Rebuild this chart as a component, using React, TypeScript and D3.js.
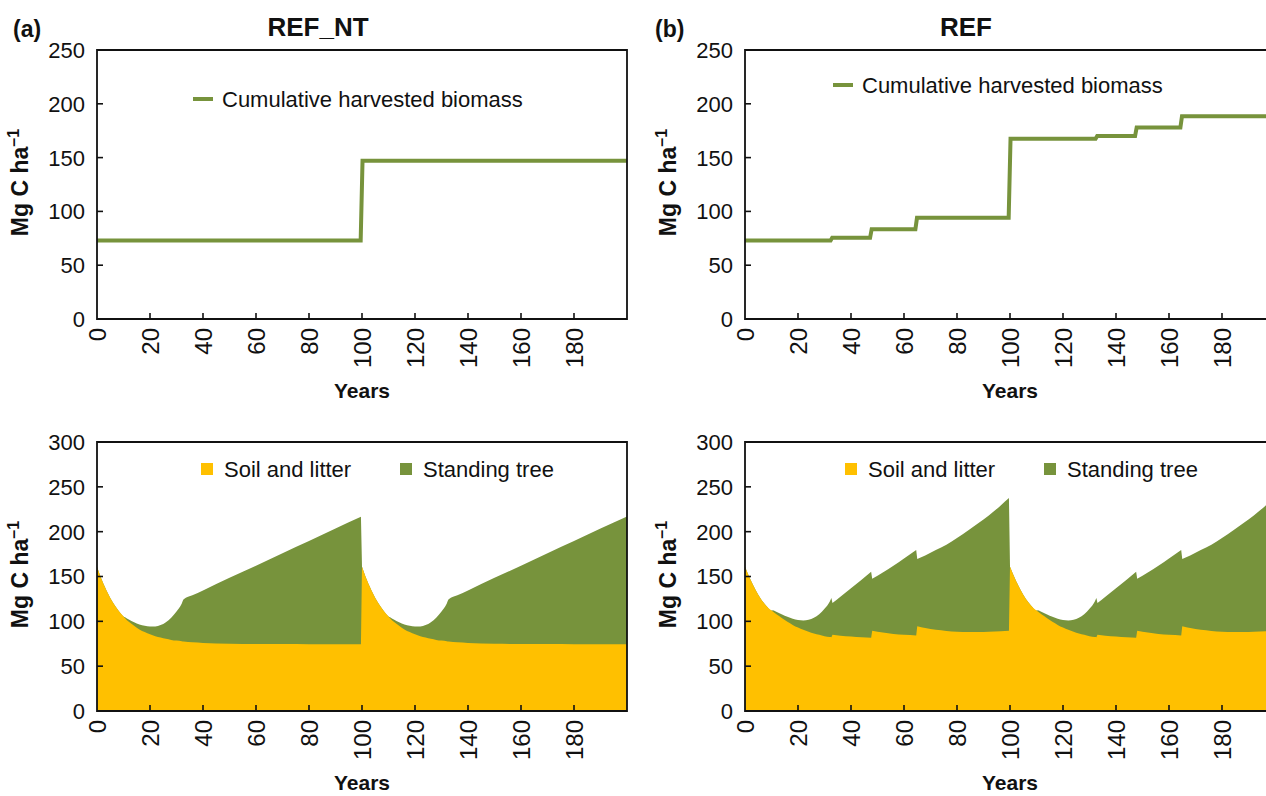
import React from "react";
import * as d3 from "d3";

const W = 1266;
const H = 796;

// Cumulative harvested biomass (Mg C/ha), step series
const harvestYearsNT = [0, 99.5, 100.2, 200];
const harvestNT = [73, 73, 147, 147];

const harvestYearsREF = [0, 32.3, 32.9, 47.2, 47.8, 64.3, 64.9, 99.5, 100.2, 132.3, 132.9, 147.2, 147.8, 164.3, 164.9, 200];
const harvestREF = [73, 73, 75.5, 75.5, 83.5, 83.5, 94, 94, 167.5, 167.5, 170, 170, 178, 178, 188.5, 188.5];

// Carbon stocks without thinning (REF_NT)
const stockYearsNT = [
  0, 2, 4, 6, 8, 10, 10.6, 12, 14, 16, 18, 20, 22, 24, 26, 28, 30, 32, 32.7, 36, 40, 50, 60, 70, 80, 90, 99.6,
  100, 102, 104, 106, 108, 110, 110.6, 112, 114, 116, 118, 120, 122, 124, 126, 128, 130, 132, 132.7, 136, 140, 150, 160, 170, 180, 190, 200,
];
const soilNT = [
  161, 145, 132, 121, 112.5, 105.5, 103.5, 99.5, 95, 91, 88, 85.5, 83.5, 82, 80.5, 79.3, 78.5, 77.8, 77.5, 76.6, 75.9, 75, 74.7, 74.6, 74.5, 74.5, 74.5,
  161, 145, 132, 121, 112.5, 105.5, 103.5, 99.5, 95, 91, 88, 85.5, 83.5, 82, 80.5, 79.3, 78.5, 77.8, 77.5, 76.6, 75.9, 75, 74.7, 74.6, 74.5, 74.5, 74.5,
];
const totalNT = [
  161, 145, 132, 121, 112.5, 105.5, 104.5, 102, 99, 96.5, 95, 94.2, 94.3, 95.8, 99, 104, 111, 120, 124.5, 129, 134.5, 148.5, 162, 176, 189.5, 203.5, 216.5,
  161, 145, 132, 121, 112.5, 105.5, 104.5, 102, 99, 96.5, 95, 94.2, 94.3, 95.8, 99, 104, 111, 120, 124.5, 129, 134.5, 148.5, 162, 176, 189.5, 203.5, 217,
];

// Carbon stocks with thinnings (REF)
const stockYearsREF = [
  0, 2, 4, 6, 8, 10, 10.5, 12, 14, 16, 18, 20, 22, 24, 26, 28, 30, 32, 32.6, 33, 36, 40, 44, 47.6, 48, 52, 56, 60, 64.6, 65, 68, 72, 76, 80, 84.3, 88, 92, 96.6, 99.6,
  100, 102, 104, 106, 108, 110, 110.5, 112, 114, 116, 118, 120, 122, 124, 126, 128, 130, 132, 132.6, 133, 136, 140, 144, 147.6, 148, 152, 156, 160, 164.6, 165, 168, 172, 176, 180, 184.3, 188, 192, 196.6, 199.6,
];
const soilREF = [
  161, 147, 135, 125, 117.5, 112, 111, 107.5, 103.5, 99.5, 96, 93, 90.5, 88.5, 86.5, 85, 83.5, 82.5, 82.3, 85, 84, 83, 82.2, 81.8, 89.5, 87.5, 86, 85, 84.3, 94.5, 92.5, 90.5, 89.3, 88.5, 88.2, 88.2, 88.4, 89, 89.5,
  161, 147, 135, 125, 117.5, 112, 111, 107.5, 103.5, 99.5, 96, 93, 90.5, 88.5, 86.5, 85, 83.5, 82.5, 82.3, 85, 84, 83, 82.2, 81.8, 89.5, 87.5, 86, 85, 84.3, 94.5, 92.5, 90.5, 89.3, 88.5, 88.2, 88.2, 88.4, 89, 89.5,
];
const totalREF = [
  161, 147, 135, 125, 117.5, 112, 112.5, 110.5, 107.5, 105, 103, 101.5, 101, 101.8, 104, 108, 114, 122, 126, 120.5, 127.5, 137, 146.5, 155.3, 147.5, 154.5, 162, 170, 179.5, 169.5, 173.5, 179.5, 185.5, 193, 201.5, 209.5, 218, 229.5, 237.5,
  161, 147, 135, 125, 117.5, 112, 112.5, 110.5, 107.5, 105, 103, 101.5, 101, 101.8, 104, 108, 114, 122, 126, 120.5, 127.5, 137, 146.5, 155.3, 147.5, 154.5, 162, 170, 179.5, 169.5, 173.5, 179.5, 185.5, 193, 201.5, 209.5, 218, 229.5, 237.5,
];

const xTicks = [0, 20, 40, 60, 80, 100, 120, 140, 160, 180];
const yTicksTop = [0, 50, 100, 150, 200, 250];
const yTicksBottom = [0, 50, 100, 150, 200, 250, 300];

const GREEN = "#77933C";
const YELLOW = "#FFC000";
const FONT = "'Liberation Sans', Arial, Helvetica, sans-serif";

type Frame = { left: number; top: number; bottom: number; yMax: number; yTicks: number[] };

function Axes({ f, x, y }: { f: Frame; x: d3.ScaleLinear<number, number>; y: d3.ScaleLinear<number, number> }) {
  const right = x(200);
  return (
    <g>
      <path
        d={`M${f.left},${f.top}H${right}V${f.bottom}H${f.left}Z`}
        fill="none"
        stroke="#111"
        strokeWidth={1.8}
      />
      {f.yTicks.map((t) => (
        <g key={"y" + t}>
          {t > 0 && t < f.yMax && (
            <line x1={f.left} x2={f.left + 6} y1={y(t)} y2={y(t)} stroke="#111" strokeWidth={1.6} />
          )}
          <text
            x={f.left - 12}
            y={y(t)}
            dy="0.36em"
            textAnchor="end"
            fontSize={22}
            fontFamily={FONT}
            fill="#111"
          >
            {t}
          </text>
        </g>
      ))}
      {xTicks.map((t) => (
        <g key={"x" + t}>
          {t > 0 && (
            <line x1={x(t)} x2={x(t)} y1={f.bottom} y2={f.bottom - 6} stroke="#111" strokeWidth={1.6} />
          )}
          <text
            transform={`translate(${x(t)},${f.bottom + 9}) rotate(-90)`}
            dy="0.36em"
            textAnchor="end"
            fontSize={24}
            fontFamily={FONT}
            fill="#111"
          >
            {t}
          </text>
        </g>
      ))}
      <text
        x={x(100)}
        y={f.bottom + 79}
        textAnchor="middle"
        fontSize={21}
        fontWeight="bold"
        fontFamily={FONT}
        fill="#111"
      >
        Years
      </text>
      <text
        transform={`translate(${f.left - 69},${(f.top + f.bottom) / 2 - 2}) rotate(-90)`}
        textAnchor="middle"
        fontSize={23}
        fontWeight="bold"
        fontFamily={FONT}
        fill="#111"
      >
        Mg C ha
        <tspan fontSize={16} dy={-9}>
          –1
        </tspan>
      </text>
    </g>
  );
}

function HarvestPanel({
  left,
  years,
  values,
  legendX,
  legendY,
}: {
  left: number;
  years: number[];
  values: number[];
  legendX: number;
  legendY: number;
}) {
  const f: Frame = { left, top: 50, bottom: 319, yMax: 250, yTicks: yTicksTop };
  const x = d3.scaleLinear().domain([0, 200]).range([left, left + 530]);
  const y = d3.scaleLinear().domain([0, 250]).range([f.bottom, f.top]);
  const line = d3
    .line<number>()
    .x((d, i) => x(years[i]))
    .y((d) => y(d));
  return (
    <g>
      <path d={line(values) || ""} fill="none" stroke={GREEN} strokeWidth={4} strokeLinejoin="miter" />
      <Axes f={f} x={x} y={y} />
      <line x1={legendX} x2={legendX + 20} y1={legendY} y2={legendY} stroke={GREEN} strokeWidth={4} />
      <text x={legendX + 29} y={legendY} dy="0.36em" fontSize={22} fontFamily={FONT} fill="#111">
        Cumulative harvested biomass
      </text>
    </g>
  );
}

// Split the series into growth stretches at harvest events (very short steps in time),
// so that the smoothing never rounds off a sharp harvest drop.
function growthSegments(years: number[]): number[][] {
  const segs: number[][] = [[0]];
  for (let i = 1; i < years.length; i++) {
    if (years[i] - years[i - 1] < 0.45) segs.push([i]);
    else segs[segs.length - 1].push(i);
  }
  return segs;
}

// One closed area from the x axis up to a stacked total, smoothed within each
// growth stretch and joined by straight steps across harvest events.
function stackedAreaPath(
  segs: number[][],
  years: number[],
  vals: number[],
  x: d3.ScaleLinear<number, number>,
  y: d3.ScaleLinear<number, number>
): string {
  const line = d3
    .line<number>()
    .x((i) => x(years[i]))
    .y((i) => y(vals[i]))
    .curve(d3.curveMonotoneX);
  const edge = segs
    .map((s, k) => {
      const d = line(s) || "";
      return k === 0 ? d : "L" + d.slice(1);
    })
    .join("");
  const last = years.length - 1;
  return `${edge}L${x(years[last])},${y(0)}L${x(years[0])},${y(0)}Z`;
}

function StockPanel({
  left,
  years,
  soil,
  total,
  legendX,
  clipId,
}: {
  left: number;
  years: number[];
  soil: number[];
  total: number[];
  legendX: number;
  clipId: string;
}) {
  const f: Frame = { left, top: 442, bottom: 711, yMax: 300, yTicks: yTicksBottom };
  const x = d3.scaleLinear().domain([0, 200]).range([left, left + 530]);
  const y = d3.scaleLinear().domain([0, 300]).range([f.bottom, f.top]);
  const segs = growthSegments(years);
  const ly = 469;
  return (
    <g>
      <defs>
        <clipPath id={clipId}>
          <rect x={left} y={f.top} width={530} height={f.bottom - f.top} />
        </clipPath>
      </defs>
      <g clipPath={`url(#${clipId})`}>
        {/* standing tree stacked on soil: fill up to the total, then soil on top */}
        <path d={stackedAreaPath(segs, years, total, x, y)} fill={GREEN} />
        <path d={stackedAreaPath(segs, years, soil, x, y)} fill={YELLOW} />
      </g>
      <Axes f={f} x={x} y={y} />
      <rect x={legendX} y={ly - 6} width={12} height={12} fill={YELLOW} />
      <text x={legendX + 23} y={ly} dy="0.36em" fontSize={22} fontFamily={FONT} fill="#111">
        Soil and litter
      </text>
      <rect x={legendX + 199} y={ly - 6} width={12} height={12} fill={GREEN} />
      <text x={legendX + 222} y={ly} dy="0.36em" fontSize={22} fontFamily={FONT} fill="#111">
        Standing tree
      </text>
    </g>
  );
}

export default function App() {
  return (
    <svg
      width={W}
      height={H}
      viewBox={`0 0 ${W} ${H}`}
      style={{ position: "absolute", left: 0, top: 0, background: "#fff" }}
    >
      <rect x={0} y={0} width={W} height={H} fill="#fff" />
      <text x={13} y={37} fontSize={23} fontWeight="bold" fontFamily={FONT} fill="#111">
        (a)
      </text>
      <text x={318} y={36} textAnchor="middle" fontSize={26} fontWeight="bold" fontFamily={FONT} fill="#111">
        REF_NT
      </text>
      <text x={655} y={37} fontSize={23} fontWeight="bold" fontFamily={FONT} fill="#111">
        (b)
      </text>
      <text x={966} y={36} textAnchor="middle" fontSize={26} fontWeight="bold" fontFamily={FONT} fill="#111">
        REF
      </text>

      <HarvestPanel left={97} years={harvestYearsNT} values={harvestNT} legendX={193} legendY={99} />
      <HarvestPanel left={745} years={harvestYearsREF} values={harvestREF} legendX={833} legendY={85} />

      <StockPanel left={97} years={stockYearsNT} soil={soilNT} total={totalNT} legendX={201} clipId="clipNT" />
      <StockPanel left={745} years={stockYearsREF} soil={soilREF} total={totalREF} legendX={845} clipId="clipREF" />
    </svg>
  );
}
